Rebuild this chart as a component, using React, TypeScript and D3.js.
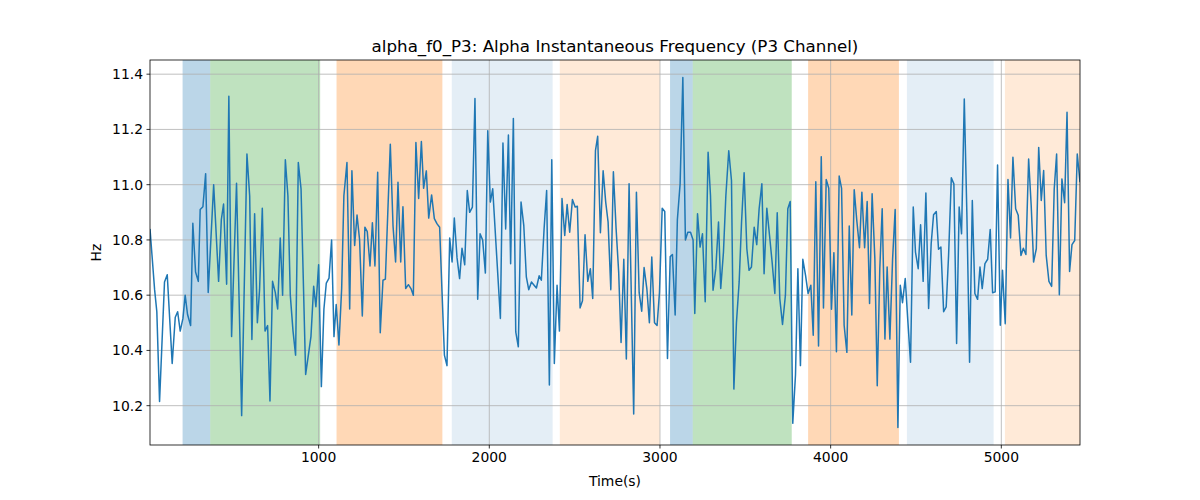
import React from "react";
import * as d3 from "d3";

const times: number[] = [12,39,52,68,97,113,142,160,174,189,205,218,232,250,263,279,295,306,322,338,353,385,414,430,443,461,474,490,519,549,580,596,609,625,641,654,670,686,701,715,730,746,760,775,789,805,820,834,850,865,881,897,924,955,971,984,1000,1016,1031,1045,1061,1076,1090,1103,1119,1135,1148,1166,1182,1195,1211,1225,1240,1256,1271,1285,1301,1315,1330,1346,1361,1377,1391,1420,1436,1451,1465,1481,1494,1510,1526,1541,1555,1570,1586,1602,1615,1631,1645,1662,1678,1694,1709,1723,1737,1752,1768,1782,1795,1811,1826,1840,1856,1871,1885,1901,1916,1932,1946,1961,1977,1991,2006,2020,2065,2080,2096,2112,2125,2141,2155,2170,2186,2202,2217,2231,2247,2260,2276,2292,2305,2321,2336,2352,2366,2381,2397,2411,2426,2442,2456,2471,2487,2503,2516,2532,2546,2561,2577,2592,2606,2622,2635,2651,2667,2682,2696,2712,2727,2743,2758,2772,2788,2803,2819,2846,2862,2878,2893,2907,2923,2938,2952,2968,2983,2997,3013,3028,3044,3060,3073,3089,3102,3118,3134,3149,3163,3179,3194,3204,3220,3235,3249,3265,3282,3296,3311,3327,3343,3356,3372,3386,3403,3419,3433,3448,3464,3478,3493,3509,3522,3536,3552,3567,3581,3597,3610,3626,3642,3657,3673,3687,3702,3718,3735,3749,3763,3778,3794,3808,3823,3837,3853,3868,3884,3898,3913,3929,3945,3958,3974,3989,4005,4019,4034,4050,4064,4079,4095,4109,4124,4138,4154,4169,4183,4199,4214,4228,4243,4259,4273,4288,4302,4318,4331,4347,4363,4378,4394,4408,4421,4437,4453,4468,4484,4497,4513,4527,4542,4558,4574,4589,4603,4619,4632,4646,4662,4677,4691,4707,4722,4738,4753,4767,4783,4798,4814,4830,4845,4861,4875,4888,4904,4920,4935,4949,4964,4978,4994,5007,5023,5039,5054,5068,5084,5099,5115,5129,5144,5160,5175,5189,5205,5219,5234,5248,5263,5279,5295,5310,5324,5340,5355,5371,5385,5400,5414,5430,5445,5461];

const freqHz: number[] = [10.84,10.62,10.54,10.215,10.648,10.674,10.353,10.52,10.54,10.47,10.516,10.60,10.53,10.49,10.86,10.684,10.65,10.91,10.92,11.04,10.61,11.00,10.65,10.874,10.93,10.64,11.32,10.45,11.005,10.164,11.111,10.96,10.44,10.895,10.50,10.62,10.915,10.47,10.49,10.217,10.65,10.61,10.55,10.807,10.60,11.09,10.96,10.60,10.47,10.383,11.08,10.985,10.313,10.45,10.632,10.558,10.71,10.269,10.55,10.644,10.662,10.80,10.45,10.566,10.42,10.624,10.96,11.08,10.55,11.05,10.78,10.89,10.80,10.525,10.846,10.83,10.706,10.862,10.706,11.045,10.464,10.654,10.658,11.146,10.85,10.72,11.009,10.72,10.92,10.624,10.638,10.624,10.60,11.153,10.95,11.156,10.987,11.05,10.879,10.963,10.877,10.858,10.846,10.612,10.383,10.345,10.807,10.72,10.879,10.735,10.66,10.77,10.71,10.979,10.90,10.919,11.312,10.585,10.822,10.80,10.68,11.195,10.937,10.985,10.516,11.151,10.84,11.18,10.714,11.24,10.467,10.413,10.937,10.853,10.666,10.62,10.648,10.638,10.626,10.67,10.654,10.84,10.979,10.275,11.09,10.353,10.636,10.47,10.95,10.816,10.928,10.828,10.946,10.919,10.922,10.554,10.58,10.819,10.65,10.696,10.588,11.123,11.175,10.826,11.05,10.937,10.865,10.62,11.047,10.84,10.684,10.429,10.73,10.369,11.003,10.17,10.973,10.609,10.542,10.70,10.624,10.50,10.738,10.50,10.49,10.609,10.915,10.903,10.371,10.74,10.747,10.528,10.874,11.003,11.388,10.80,10.828,10.828,10.80,10.534,10.895,10.774,10.822,10.576,11.117,10.96,10.618,10.696,10.865,10.624,10.756,10.96,11.123,11.015,10.26,10.50,10.648,10.865,11.043,10.768,10.69,10.702,10.846,10.783,10.913,11.003,10.678,10.915,10.816,10.72,10.606,10.898,10.588,10.494,10.60,10.913,10.939,10.136,10.311,10.696,10.345,10.73,10.672,10.606,10.636,10.455,11.011,10.416,11.101,10.554,11.019,10.987,10.549,10.754,10.395,11.031,10.987,10.491,10.393,10.85,10.528,10.982,10.865,10.772,10.973,10.772,10.939,10.57,10.967,10.732,10.272,10.696,10.913,10.441,10.702,10.441,10.732,10.91,10.121,10.636,10.573,10.66,10.50,10.357,10.919,10.756,10.696,10.855,10.65,10.97,10.552,10.786,10.891,10.903,10.766,10.774,10.54,10.558,10.744,11.025,11.003,10.425,10.919,10.822,11.31,10.9,10.357,10.943,10.606,10.585,10.702,10.624,10.714,10.73,10.838,10.609,10.612,11.071,10.491,10.69,10.497,11.019,10.807,11.099,10.913,10.889,10.744,10.77,10.747,11.093,10.925,10.72,10.768,11.135,10.943,11.051,10.744,10.65,10.632,10.985,11.111,10.602,11.021,10.935,11.262,10.686,10.783,10.798,11.111,11.009];

const spanStarts: number[] = [203, 365, 1105, 1780, 2413, 3059, 3192, 3868, 4447, 5021];
const spanEnds: number[] = [365, 1009, 1725, 2371, 2999, 3192, 3772, 4400, 4955, 5461];
const spanColors: string[] = ["#1f77b4", "#2ca02c", "#ff7f0e", "#1f77b4", "#ff7f0e", "#1f77b4", "#2ca02c", "#ff7f0e", "#1f77b4", "#ff7f0e"];
const spanAlphas: number[] = [0.3, 0.3, 0.3, 0.12, 0.16, 0.3, 0.3, 0.3, 0.12, 0.16];

const xTicks: number[] = [1000, 2000, 3000, 4000, 5000];
const yTicks: number[] = [10.2, 10.4, 10.6, 10.8, 11.0, 11.2, 11.4];

const W = 1200, H = 500;
const L = 150, R = 1080, T = 60, B = 445;
const FONT = "DejaVu Sans, sans-serif";

export default function App() {
  const pts = times.map((t, i) => [t, freqHz[i]] as [number, number]);
  const xExt = d3.extent(times) as [number, number];
  const [ymin, ymax] = d3.extent(freqHz) as [number, number];
  const pad = (ymax - ymin) * 0.05;
  const x = d3.scaleLinear().domain(xExt).range([L, R]);
  const y = d3.scaleLinear().domain([ymin - pad, ymax + pad]).range([B, T]);
  const line = d3.line<[number, number]>().x(d => x(d[0])).y(d => y(d[1]));

  return (
    <svg width={W} height={H} style={{ position: "absolute", left: 0, top: 0, background: "#fff" }} fontFamily={FONT}>
      <rect x={0} y={0} width={W} height={H} fill="#fff" />
      <defs>
        <clipPath id="plot"><rect x={L} y={T} width={R - L} height={B - T} /></clipPath>
      </defs>
      <g clipPath="url(#plot)">
        {spanStarts.map((s, i) => (
          <rect key={i} x={x(s)} y={T} width={x(spanEnds[i]) - x(s)} height={B - T}
            fill={spanColors[i]} fillOpacity={spanAlphas[i]} />
        ))}
        {xTicks.map(t => (
          <line key={"gx" + t} x1={x(t)} x2={x(t)} y1={T} y2={B} stroke="#b0b0b0" strokeWidth={0.8} />
        ))}
        {yTicks.map(t => (
          <line key={"gy" + t} x1={L} x2={R} y1={y(t)} y2={y(t)} stroke="#b0b0b0" strokeWidth={0.8} />
        ))}
        <path d={line(pts) || ""} fill="none" stroke="#1f77b4" strokeWidth={1.5} strokeLinejoin="round" />
      </g>
      <rect x={L} y={T} width={R - L} height={B - T} fill="none" stroke="#000" strokeWidth={0.8} />
      {xTicks.map(t => (
        <g key={"xt" + t}>
          <line x1={x(t)} x2={x(t)} y1={B} y2={B + 3.5} stroke="#000" strokeWidth={0.8} />
          <text x={x(t)} y={B + 17} fontSize={13.9} textAnchor="middle" fill="#000">{t}</text>
        </g>
      ))}
      {yTicks.map(t => (
        <g key={"yt" + t}>
          <line x1={L - 3.5} x2={L} y1={y(t)} y2={y(t)} stroke="#000" strokeWidth={0.8} />
          <text x={L - 7} y={y(t) + 5} fontSize={13.9} textAnchor="end" fill="#000">{t.toFixed(1)}</text>
        </g>
      ))}
      <text x={(L + R) / 2} y={486} fontSize={13.9} textAnchor="middle" fill="#000">Time(s)</text>
      <text transform={`translate(101, ${(T + B) / 2}) rotate(-90)`} fontSize={13.9} textAnchor="middle" fill="#000">Hz</text>
      <text x={(L + R) / 2} y={52} fontSize={16.7} textAnchor="middle" fill="#000">alpha_f0_P3: Alpha Instantaneous Frequency (P3 Channel)</text>
    </svg>
  );
}
